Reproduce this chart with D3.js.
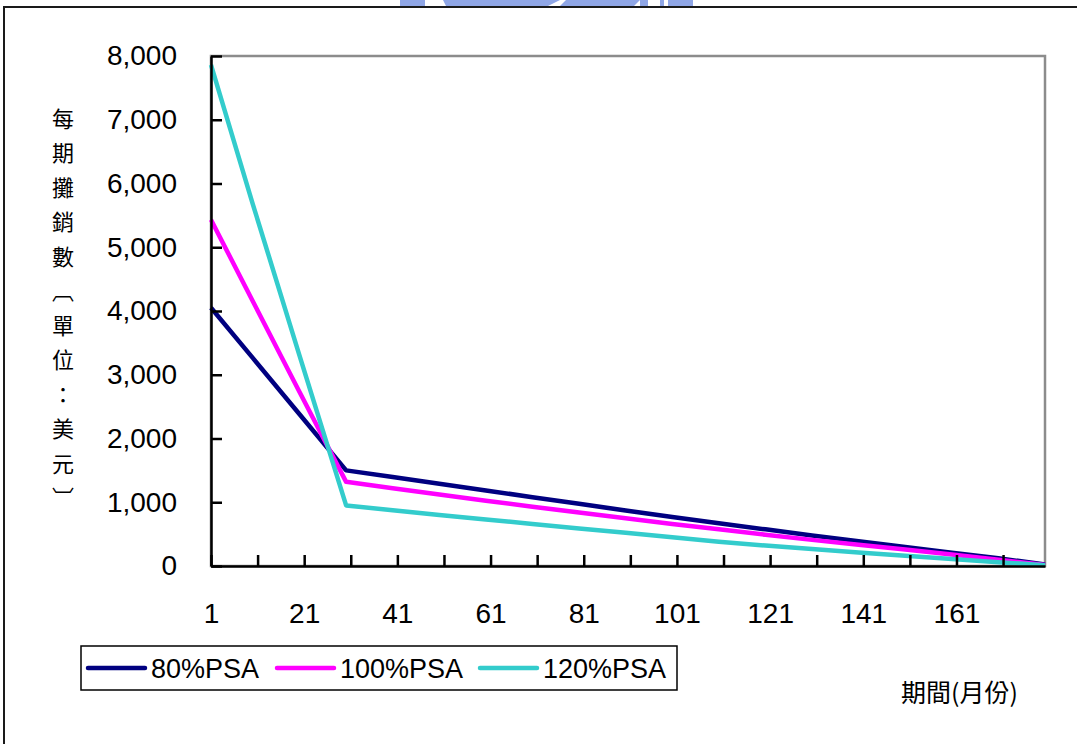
<!DOCTYPE html>
<html>
<head>
<meta charset="utf-8">
<script src="https://cdn.jsdelivr.net/npm/d3@7"></script>
<style>
  body { margin: 0; background: #fff; }
  svg { display: block; }
</style>
</head>
<body>
<script>
var periods = [1, 10, 20, 30, 40, 50, 60, 70, 80, 90, 100, 110, 120, 130, 140, 150, 160, 170, 180];
var psa80  = [4050, 3260, 2380, 1500, 1395, 1290, 1185, 1080, 975, 870, 770, 670, 575, 480, 390, 300, 210, 120, 25];
var psa100 = [5430, 4150, 2730, 1320, 1220, 1120, 1025, 930, 840, 750, 660, 575, 490, 410, 335, 260, 180, 100, 15];
var psa120 = [7860, 5670, 3300, 950, 875, 800, 730, 660, 590, 520, 450, 380, 320, 265, 210, 160, 110, 60, 10];
var seriesNames = ["80%PSA", "100%PSA", "120%PSA"];
var colors = ["#000080", "#ff00ff", "#33cccc"];
var yTicks = [0, 1000, 2000, 3000, 4000, 5000, 6000, 7000, 8000];
var xTickMarks = [1, 11, 21, 31, 41, 51, 61, 71, 81, 91, 101, 111, 121, 131, 141, 151, 161, 171];
var xLabels = [1, 21, 41, 61, 81, 101, 121, 141, 161];
var yTitle = ["每", "期", "攤", "銷", "數", "︹", "單", "位", "：", "美", "元", "︺"];
var xTitle = "期間(月份)";

var w = 1077, h = 744,
    plotLeft = 211, plotRight = 1045, plotTop = 56, plotBottom = 566,
    font = "'Liberation Sans', Arial, sans-serif",
    cjk = "'Noto Sans CJK TC', 'Noto Sans CJK SC', sans-serif";

var svg = d3.select("body")
    .append("svg")
    .attr("width", w)
    .attr("height", h);

// faded logo strip at the very top
var logo = svg.append("g").attr("fill", "#8fa6e6");
logo.append("rect").attr("x", 400).attr("y", 0).attr("width", 25).attr("height", 6);
logo.append("polygon").attr("points", "443,0 560,0 548,6 446,6");
logo.append("polygon").attr("points", "566,0 640,0 634,6 560,6");
logo.append("rect").attr("x", 640).attr("y", 0).attr("width", 8).attr("height", 6);
logo.append("rect").attr("x", 660).attr("y", 0).attr("width", 4).attr("height", 6);
logo.append("rect").attr("x", 668).attr("y", 0).attr("width", 25).attr("height", 6);

// outer frame
svg.append("path")
    .attr("d", "M4,744 L4,7 L1077,7")
    .attr("fill", "none")
    .attr("stroke", "#1a1a1a")
    .attr("stroke-width", 2);

var x = d3.scaleLinear().domain([1, 180]).range([plotLeft, plotRight]);
var y = d3.scaleLinear().domain([0, 8000]).range([plotBottom, plotTop]);

// plot area border
svg.append("rect")
    .attr("x", plotLeft)
    .attr("y", plotTop)
    .attr("width", plotRight - plotLeft)
    .attr("height", plotBottom - plotTop)
    .attr("fill", "none")
    .attr("stroke", "#8c8c8c")
    .attr("stroke-width", 2.5);

var line = d3.line()
    .x(function (d) { return x(d[0]); })
    .y(function (d) { return y(d[1]); });

[psa80, psa100, psa120].forEach(function (vals, i) {
    svg.append("path")
        .datum(periods.map(function (p, j) { return [p, vals[j]]; }))
        .attr("d", line)
        .attr("fill", "none")
        .attr("stroke", colors[i])
        .attr("stroke-width", 4.5)
        .attr("stroke-linejoin", "round");
});

var yAxis = svg.append("g")
    .attr("transform", "translate(" + plotLeft + ",0)")
    .call(d3.axisLeft(y).tickValues(yTicks).tickSize(-11).tickSizeOuter(0)
        .tickPadding(34).tickFormat(d3.format(",")));

var xAxis = svg.append("g")
    .attr("transform", "translate(0," + plotBottom + ")")
    .call(d3.axisBottom(x).tickValues(xTickMarks).tickSize(-11).tickSizeOuter(0)
        .tickPadding(37).tickFormat(function (d) { return xLabels.indexOf(d) >= 0 ? d : ""; }));

[yAxis, xAxis].forEach(function (g) {
    g.select(".domain").attr("stroke", "#000").attr("stroke-width", 2.5);
    g.selectAll(".tick line").attr("stroke", "#000").attr("stroke-width", 2.5);
    g.selectAll("text")
        .attr("font-family", font)
        .attr("font-size", "28px")
        .attr("fill", "#000");
});

// y axis title, stacked vertically
svg.append("g").selectAll("text")
    .data(yTitle)
    .enter()
    .append("text")
    .text(function (d) { return d; })
    .attr("x", 63)
    .attr("y", function (d, i) { return 119 + i * 34.5; })
    .attr("dy", "0.36em")
    .attr("text-anchor", "middle")
    .attr("font-family", cjk)
    .attr("font-size", "22px")
    .attr("fill", "#000");

svg.append("text")
    .text(xTitle)
    .attr("x", 901)
    .attr("y", 693)
    .attr("dy", "0.36em")
    .attr("font-family", cjk)
    .attr("font-size", "25px")
    .attr("fill", "#000");

// legend
var legend = svg.append("g");
legend.append("rect")
    .attr("x", 81)
    .attr("y", 646)
    .attr("width", 596)
    .attr("height", 44)
    .attr("fill", "#fff")
    .attr("stroke", "#000")
    .attr("stroke-width", 1.5);

var legendX = [88, 277, 480];
seriesNames.forEach(function (name, i) {
    legend.append("line")
        .attr("x1", legendX[i])
        .attr("x2", legendX[i] + 57)
        .attr("y1", 668)
        .attr("y2", 668)
        .attr("stroke", colors[i])
        .attr("stroke-width", 4.5)
        .attr("stroke-linecap", "round");
    legend.append("text")
        .text(name)
        .attr("x", legendX[i] + 63)
        .attr("y", 668)
        .attr("dy", "0.36em")
        .attr("font-family", font)
        .attr("font-size", "27px")
        .attr("fill", "#000");
});
</script>
</body>
</html>
